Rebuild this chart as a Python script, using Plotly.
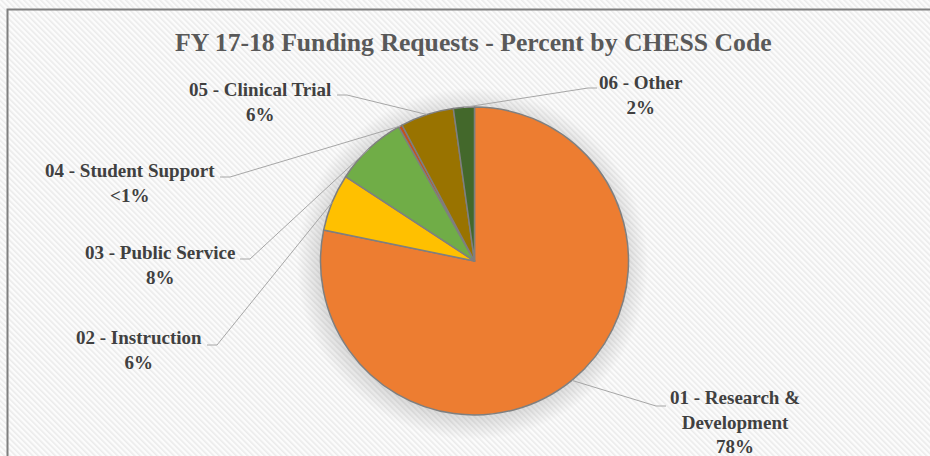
import base64
import math
import plotly.graph_objects as go

# data
codes = ["01 - Research &<br>Development", "02 - Instruction", "03 - Public Service",
         "04 - Student Support", "05 - Clinical Trial", "06 - Other"]
shares = [78.3, 6.0, 7.6, 0.4, 5.6, 2.2]
share_text = ["78%", "6%", "8%", "<1%", "6%", "2%"]
colors = ["#ED7D31", "#FFC000", "#70AD47", "#C5501E", "#997300", "#43682B"]

W, H = 930, 456
cx, cy, r = 474.5, 261, 154   # pie centre/radius in px

# label block centres and leader line end points (px)
label_pos = [(735, 422), (139, 350), (160, 265), (130, 183), (260, 102), (641, 95)]
leader_pts = [((666, 406), (656, 406)), ((207, 345), (217, 345)), ((240, 259), (250, 259)),
              ((220, 177), (230, 177)), ((337, 95), (347, 95)), ((597, 88), (588, 88))]


def px(x, y):
    return x / W, 1 - y / H


# background: diagonal stripes, soft shadow behind pie, frame
svg = f'''<svg xmlns="http://www.w3.org/2000/svg" width="{W}" height="{H}" viewBox="0 0 {W} {H}" preserveAspectRatio="none">
<defs>
<pattern id="p" width="4" height="4" patternUnits="userSpaceOnUse" patternTransform="rotate(-45)">
<rect width="4" height="4" fill="#fcfcfc"/><rect width="1.6" height="4" fill="#ebebeb"/></pattern>
<radialGradient id="g" cx="0.5" cy="0.5" r="0.5">
<stop offset="0.86" stop-color="#000" stop-opacity="0.13"/>
<stop offset="1" stop-color="#000" stop-opacity="0"/></radialGradient>
</defs>
<rect width="{W}" height="{H}" fill="url(#p)"/>
<circle cx="{cx - 2}" cy="{cy + 3}" r="{r + 22}" fill="url(#g)"/>
<rect x="7.5" y="9.5" width="2000" height="2000" fill="none" stroke="#7f7f7f" stroke-width="2"/>
</svg>'''
bg_src = "data:image/svg+xml;base64," + base64.b64encode(svg.encode()).decode()

fig = go.Figure()
fig.add_trace(go.Pie(
    labels=codes, values=shares, sort=False, direction="clockwise", rotation=0,
    marker=dict(colors=colors, line=dict(color="#7f7f7f", width=1.5)),
    textinfo="none", hoverinfo="label+percent", showlegend=False,
    domain=dict(x=[(cx - r) / W, (cx + r) / W], y=[(H - cy - r) / H, (H - cy + r) / H]),
))

shapes = []
annotations = []
total = sum(shares)
cum = 0
for i, v in enumerate(shares):
    mid = 2 * math.pi * (cum + v / 2) / total
    cum += v
    ex, ey = cx + r * math.sin(mid), cy - r * math.cos(mid)
    (lx, ly), (bx, by) = leader_pts[i]
    p0, p1, p2 = px(lx, ly), px(bx, by), px(ex, ey)
    shapes.append(dict(type="path", xref="paper", yref="paper",
                       path=f"M {p0[0]},{p0[1]} L {p1[0]},{p1[1]} L {p2[0]},{p2[1]}",
                       line=dict(color="#a6a6a6", width=1)))
    ax_, ay_ = px(*label_pos[i])
    annotations.append(dict(x=ax_, y=ay_, xref="paper", yref="paper", showarrow=False,
                            text="<b>" + codes[i] + "<br>" + share_text[i] + "</b>",
                            align="center", xanchor="center", yanchor="middle",
                            font=dict(family="Liberation Serif", size=19, color="#404040")))

fig.update_layout(
    width=W, height=H,
    margin=dict(l=0, r=0, t=0, b=0),
    paper_bgcolor="white",
    title=dict(text="<b>FY 17-18 Funding Requests - Percent by CHESS Code</b>",
               x=0.509, xanchor="center", y=1 - 42 / H, yanchor="middle", yref="container",
               font=dict(family="Liberation Serif", size=25.7, color="#595959")),
    images=[dict(source=bg_src, xref="paper", yref="paper", x=0, y=1, sizex=1, sizey=1,
                 sizing="stretch", layer="below")],
    shapes=shapes,
    annotations=annotations,
)

fig.write_html("out.html", config={"displayModeBar": False},
               post_script="document.body.style.margin='0';document.body.style.overflow='hidden';")
